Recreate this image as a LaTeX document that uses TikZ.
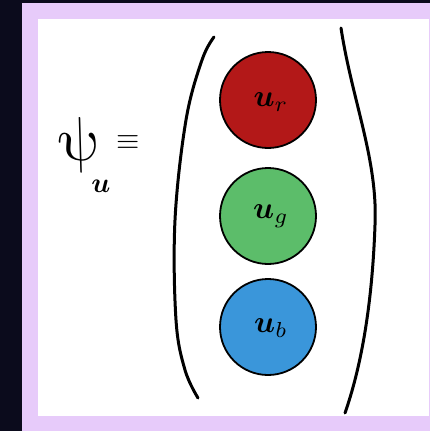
\documentclass[tikz,border=0pt]{standalone}
\usepackage{amsmath}
\usepackage{bm}
\definecolor{bgdark}{HTML}{0B0B1C}
\definecolor{lav}{HTML}{E7CBFA}
\definecolor{cred}{HTML}{B31818}
\definecolor{cgreen}{HTML}{5CBD6A}
\definecolor{cblue}{HTML}{3A96DA}
\begin{document}
\begin{tikzpicture}[x=1pt,y=-1pt,
  ball/.style={circle,draw=black,line width=1.8pt,minimum size=96pt,inner sep=0pt},
  blabel/.style={scale=3.1,inner sep=0pt},
  paren/.style={line width=3pt,line cap=round,line join=round}]
\useasboundingbox (0,0) rectangle (430,431);
\fill[bgdark] (0,0) rectangle (430,431);
\fill[lav] (22,3) rectangle (430,431);
\fill[white] (38,19) rectangle (429,416);
% left parenthesis
\draw[paren] plot[smooth,tension=0.6] coordinates {(214,37) (202,60) (186,120) (175,220) (176,320) (185,370) (198,398)};
% right parenthesis
\draw[paren] (341,28) .. controls (352,100) and (378,160) .. (375,225) .. controls (372,310) and (360,370) .. (345,413);
% balls
\node[ball,fill=cred] (ur) at (268,100) {};
\node[ball,fill=cgreen] (ug) at (268,216) {};
\node[ball,fill=cblue] (ub) at (268,327) {};
\node[blabel] (urt) at (271,102) {$\bm{u}_{r}$};
\node[blabel] (ugt) at (271,216) {$\bm{u}_{g}$};
\node[blabel] (ubt) at (271,328) {$\bm{u}_{b}$};
% psi
\begin{scope}[shift={(79,145)},xslant=-0.28]
\node[scale=6.2,inner sep=0pt,transform shape] (psi) at (0,0) {$\psi$};
\end{scope}
\node[scale=2.8,inner sep=0pt] (psisub) at (101,186) {$\bm{u}$};
\node[scale=3,inner sep=0pt] (eq) at (128,143) {$\equiv$};
\end{tikzpicture}
\end{document}
